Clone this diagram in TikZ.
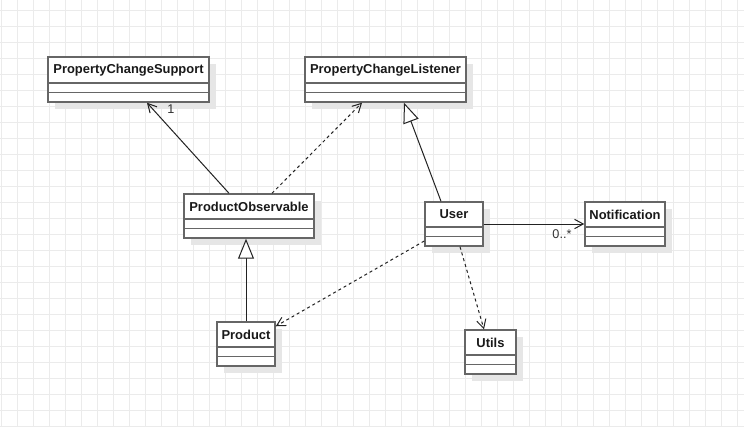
\documentclass[tikz,border=0pt]{standalone}
\usepackage{fontspec}
\setmainfont{Liberation Sans}
\usetikzlibrary{arrows.meta,fit,calc}
\definecolor{gridc}{HTML}{EBEBEB}
\definecolor{bordc}{HTML}{666666}
\definecolor{shadc}{HTML}{E6E6E6}
\definecolor{edgec}{HTML}{222222}
\tikzset{
  gridline/.style={draw=gridc, line width=0.75pt},
  clsbox/.style={draw=bordc, fill=white, line width=1.1pt, inner sep=0pt},
  clsdiv/.style={draw=bordc, line width=1.1pt},
  clstext/.style={font=\bfseries\fontsize{9.7}{11}\selectfont, text=black!90, inner sep=0pt},
  lbl/.style={font=\fontsize{9.5}{11}\selectfont, text=black!80, inner sep=0pt},
  assoc/.style={draw=edgec, line width=0.75pt, -{Straight Barb[length=6.5pt,width=7pt]}},
  dep/.style={assoc, dash pattern=on 2.25pt off 2.25pt},
  gen/.style={draw=edgec, line width=0.75pt, -{Triangle[open, length=15pt, width=12pt, fill=white]}},
}
\newcommand{\umlcls}[8]{%
  \fill[shadc] (#2+7,#3+7) rectangle (#4+7,#5+7);
  \node[clsbox, fit={(#2,#3) (#4,#5)}] (#1) {};
  \draw[clsdiv] (#2,#6) -- (#4,#6) (#2,#7) -- (#4,#7);
  \node[clstext] (#1-name) at ({(#2+#4)/2},{(#3+#6)/2}) {#8};
}
\begin{document}
\begin{tikzpicture}[x=0.75pt,y=-0.75pt]
\useasboundingbox (0,0) rectangle (744,426);
\fill[white] (0,0) rectangle (744,426);
\foreach \x in {1,17,...,744} \draw[gridline] (\x,0) -- (\x,426);
\foreach \y in {10,26,...,426} \draw[gridline] (0,\y) -- (744,\y);

\umlcls{PCS}{48}{57}{209}{102}{83}{92.5}{PropertyChangeSupport}
\umlcls{PCL}{305}{57}{466}{102}{83}{92.5}{PropertyChangeListener}
\umlcls{PO}{184}{194}{314}{238}{219}{228.5}{ProductObservable}
\umlcls{User}{425}{202}{483}{246}{227}{236.5}{User}
\umlcls{Notif}{585}{202}{665}{246}{227}{236.5}{Notification}
\umlcls{Product}{217}{322}{275}{366}{347}{356.5}{Product}
\umlcls{Utils}{465}{330}{516}{374}{355}{364.5}{Utils}

\draw[assoc] ($(PO.north)+(-20,0)$) -- ($(PCS.south)+(18.5,0)$);
\node[lbl] (m1) at (171,109.5) {1};
\draw[dep] ($(PO.north)+(23,0)$) -- ($(PCL.south)+(-23.5,0)$);
\draw[gen] ($(User.north)+(-13,0)$) -- ($(PCL.south)+(18.5,0)$);
\draw[assoc] (User.east) -- (Notif.west);
\node[lbl] (m2) at (562,234.5) {0..*};
\draw[dep] ($(User.west)+(0,17)$) -- ($(Product.north east)+(0,5)$);
\draw[dep] ($(User.south)+(6,0)$) -- ($(Utils.north)+(-6.5,0)$);
\draw[gen] (Product.north) -- (Product.north |- PO.south);
\end{tikzpicture}
\end{document}
